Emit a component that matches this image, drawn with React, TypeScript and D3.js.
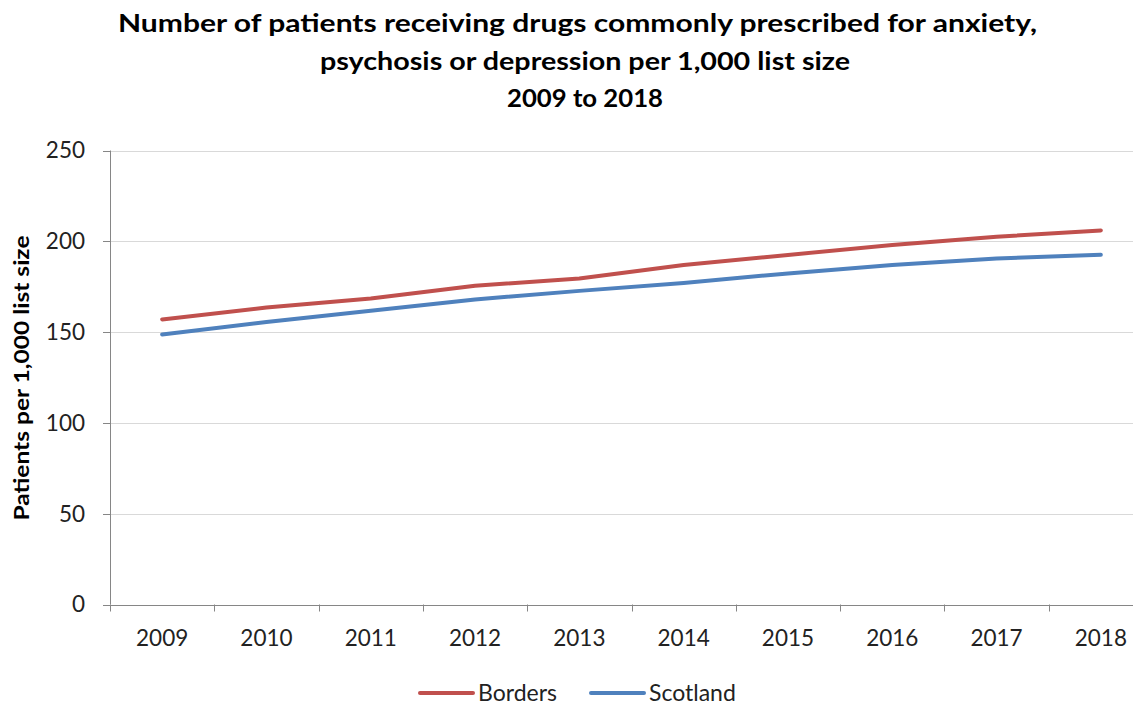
import React from "react";
import * as d3 from "d3";

const years = ["2009", "2010", "2011", "2012", "2013", "2014", "2015", "2016", "2017", "2018"];
const borders = [157, 163.5, 168.5, 175.5, 179.5, 187, 192.5, 198, 202.5, 206];
const scotland = [148.7, 155.6, 161.7, 168, 172.7, 177.1, 182.3, 186.9, 190.5, 192.6];
const yTicks = [0, 50, 100, 150, 200, 250];
const titleLines = [
  "Number of patients receiving drugs commonly prescribed for anxiety,",
  "psychosis or depression per 1,000 list size",
  "2009 to 2018",
];
const seriesNames = ["Borders", "Scotland"];
const colors = ["#C0504D", "#4F81BD"];

const W = 1133;
const H = 708;
const left = 110;
const right = 1153;
const top = 150.5;
const bottom = 604.5;
const font = "Lato, 'Open Sans', 'Liberation Sans', sans-serif";
const titleWidths = [919, 530, 156];
const titleCenters = [577.5, 585, 585];

export default function App() {
  const x = d3.scaleBand<string>().domain(years).range([left, right]).padding(0);
  const y = d3.scaleLinear().domain([0, 250]).range([bottom, top]);
  const cx = (d: string) => (x(d) as number) + x.bandwidth() / 2;
  const line = d3
    .line<number>()
    .x((_, i) => cx(years[i]))
    .y((v) => y(v));
  const series = [borders, scotland];
  const tickXs = years.map((yr) => x(yr) as number);

  return (
    <svg
      width={W}
      height={H}
      style={{ position: "absolute", left: 0, top: 0, background: "#fff", overflow: "hidden" }}
    >
      <rect x={0} y={0} width={W} height={H} fill="#fff" />
      {titleLines.map((t, i) => (
        <text
          key={i}
          x={titleCenters[i]}
          y={32 + i * 37.5}
          textAnchor="middle"
          fontFamily={font}
          fontWeight="bold"
          fontSize={25}
          fill="#000"
          textLength={titleWidths[i]}
          lengthAdjust="spacingAndGlyphs"
        >
          {t}
        </text>
      ))}
      {yTicks.map((t) => (
        <g key={t}>
          {t > 0 && (
            <line x1={left} x2={W} y1={Math.round(y(t)) + 0.5} y2={Math.round(y(t)) + 0.5} stroke="#d9d9d9" strokeWidth={1} />
          )}
          <line x1={left - 7} x2={left} y1={Math.round(y(t)) + 0.5} y2={Math.round(y(t)) + 0.5} stroke="#868686" />
          <text
            x={85}
            y={y(t)}
            dy="0.35em"
            textAnchor="end"
            fontFamily={font}
            fontSize={22.5}
            fill="#222"
          >
            {t}
          </text>
        </g>
      ))}
      <line x1={left + 0.5} x2={left + 0.5} y1={top} y2={bottom} stroke="#868686" />
      <line x1={left} x2={W} y1={Math.round(bottom) + 0.5} y2={Math.round(bottom) + 0.5} stroke="#868686" />
      {tickXs.map((tx, i) => (
        <line key={i} x1={Math.round(tx) + 0.5} x2={Math.round(tx) + 0.5} y1={bottom} y2={bottom + 7} stroke="#868686" />
      ))}
      {years.map((yr) => (
        <text
          key={yr}
          x={cx(yr)}
          y={646}
          textAnchor="middle"
          fontFamily={font}
          fontSize={22.5}
          fill="#222"
        >
          {yr}
        </text>
      ))}
      <text
        transform={`translate(29, ${378}) rotate(-90)`}
        textAnchor="middle"
        fontFamily={font}
        fontWeight="bold"
        fontSize={21}
        fill="#000"
        textLength={285}
        lengthAdjust="spacingAndGlyphs"
      >
        Patients per 1,000 list size
      </text>
      {series.map((s, i) => (
        <path
          key={i}
          d={line(s) as string}
          fill="none"
          stroke={colors[i]}
          strokeWidth={4}
          strokeLinecap="round"
          strokeLinejoin="round"
        />
      ))}
      {seriesNames.map((n, i) => {
        const lx = i === 0 ? 420 : 591;
        return (
          <g key={n}>
            <line x1={lx} x2={lx + 53} y1={693} y2={693} stroke={colors[i]} strokeWidth={4} strokeLinecap="round" />
            <text x={lx + 58} y={701} fontFamily={font} fontSize={23} fill="#222">
              {n}
            </text>
          </g>
        );
      })}
    </svg>
  );
}
